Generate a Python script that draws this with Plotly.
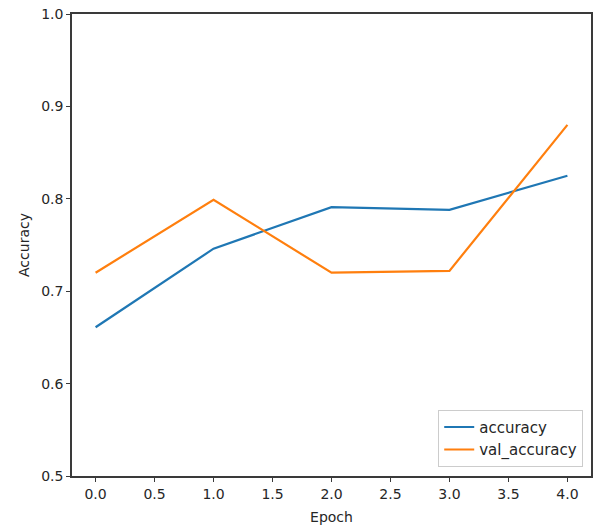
import plotly.graph_objects as go

epochs = [0, 1, 2, 3, 4]
accuracy = [0.661, 0.746, 0.791, 0.788, 0.825]
val_accuracy = [0.720, 0.799, 0.720, 0.722, 0.880]
x_ticks = [0.0, 0.5, 1.0, 1.5, 2.0, 2.5, 3.0, 3.5, 4.0]
y_ticks = [0.5, 0.6, 0.7, 0.8, 0.9, 1.0]

font = dict(family="DejaVu Sans", size=14, color="#262626")
legend_font = dict(family="DejaVu Sans", size=15, color="#262626")

fig = go.Figure()
fig.add_trace(go.Scatter(x=epochs, y=accuracy, mode="lines", name="accuracy",
                         line=dict(color="#1f77b4", width=2.2)))
fig.add_trace(go.Scatter(x=epochs, y=val_accuracy, mode="lines", name="val_accuracy",
                         line=dict(color="#ff7f0e", width=2.2)))

axis_common = dict(showline=True, mirror=True, linecolor="#3a3a3a", linewidth=1.5,
                   ticks="outside", ticklen=4, tickwidth=1.2, tickcolor="#3a3a3a",
                   showgrid=False, zeroline=False, tickfont=font)

fig.update_layout(
    width=597, height=531,
    margin=dict(l=72, r=4, t=14, b=55),
    paper_bgcolor="white", plot_bgcolor="white",
    font=font,
    xaxis=dict(range=[-0.2, 4.2], tickvals=x_ticks,
               ticktext=[f"{v:.1f}" for v in x_ticks],
               title=dict(text="Epoch", font=font, standoff=12), **axis_common),
    yaxis=dict(range=[0.5, 1.0], tickvals=y_ticks,
               ticktext=[f"{v:.1f}" for v in y_ticks],
               title=dict(text="Accuracy", font=font, standoff=8), **axis_common),
    legend=dict(x=0.985, y=0.02, xanchor="right", yanchor="bottom",
                bgcolor="rgba(255,255,255,0.8)", bordercolor="#cccccc", borderwidth=1,
                font=legend_font, tracegroupgap=0),
    showlegend=True,
)

fig.write_html("out.html", config={"displayModeBar": False},
               post_script="document.body.style.margin='0';document.body.style.overflow='hidden';")
